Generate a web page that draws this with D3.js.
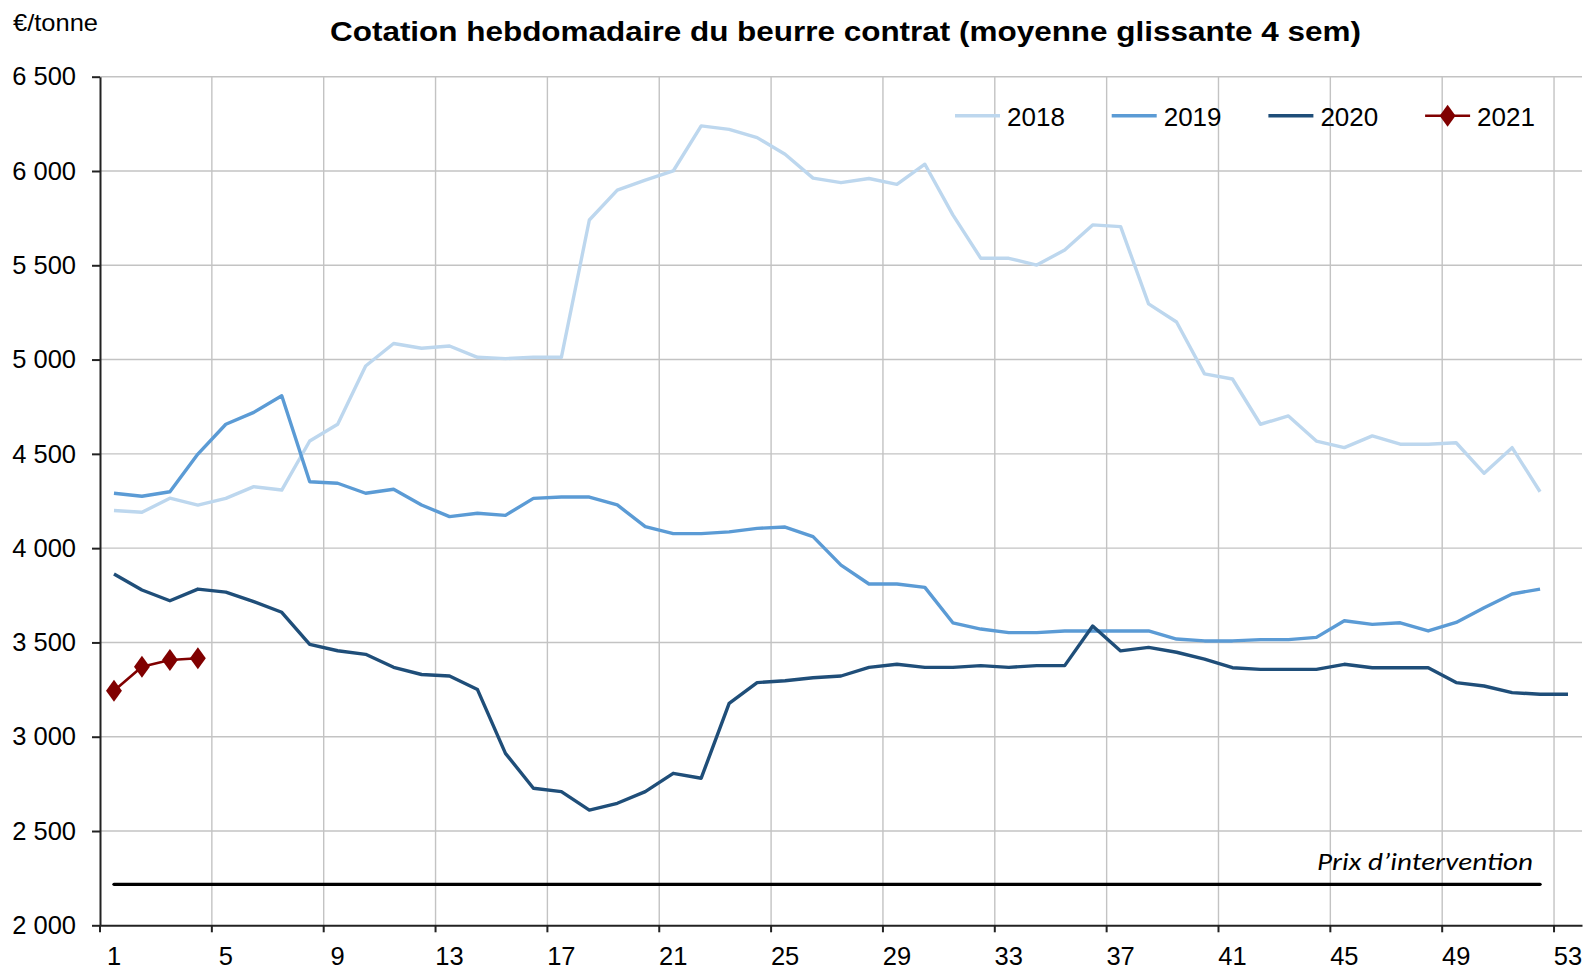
<!DOCTYPE html>
<html>
<head>
<meta charset="utf-8">
<script src="https://cdn.jsdelivr.net/npm/d3@7"></script>
<style>
  body { margin: 0; background: #fff; }
  svg { display: block; font-family: "Liberation Sans", Arial, sans-serif; }
</style>
</head>
<body>
<svg id="chart" width="1589" height="970"></svg>
<script>
// weeks 1..53
var weeks = d3.range(1, 54);
var weekLabels = [1, 5, 9, 13, 17, 21, 25, 29, 33, 37, 41, 45, 49, 53];
var yTicks = [2000, 2500, 3000, 3500, 4000, 4500, 5000, 5500, 6000, 6500];

// €/tonne, moyenne glissante 4 sem
var y2018 = [4200, 4190, 4265, 4228, 4264, 4326, 4308, 4568, 4657, 4966, 5085, 5060, 5072, 5012, 5005, 5012, 5012, 5740, 5899, 5952,
  6000, 6239, 6221, 6177, 6089, 5962, 5938, 5960, 5929, 6036, 5767, 5537, 5537, 5501, 5581, 5714, 5705, 5295, 5199, 4924,
  4897, 4657, 4701, 4568, 4533, 4595, 4551, 4551, 4559, 4397, 4533, 4299];
var y2019 = [4291, 4275, 4299, 4499, 4657, 4720, 4808, 4352, 4344, 4291, 4312, 4229, 4167, 4185, 4174, 4264, 4271, 4271, 4229, 4114,
  4077, 4077, 4086, 4105, 4112, 4061, 3910, 3810, 3810, 3792, 3604, 3571, 3552, 3552, 3561, 3561, 3561, 3561, 3518, 3508,
  3508, 3515, 3515, 3527, 3615, 3596, 3604, 3561, 3606, 3684, 3757, 3783];
var y2020 = [3863, 3778, 3721, 3783, 3767, 3716, 3660, 3490, 3456, 3437, 3368, 3330, 3322, 3250, 2912, 2727, 2709, 2611, 2647, 2709,
  2806, 2780, 3177, 3287, 3297, 3313, 3322, 3368, 3384, 3368, 3368, 3377, 3368, 3377, 3377, 3587, 3455, 3474, 3448, 3411,
  3366, 3357, 3357, 3357, 3384, 3366, 3366, 3366, 3287, 3269, 3234, 3225, 3225];
var y2021 = [3244, 3371, 3407, 3416];
var prixIntervention = 2217.5;

var series = [
  {name: "2018", values: y2018, color: "#bdd7ee", width: 3.4},
  {name: "2019", values: y2019, color: "#5b9bd5", width: 3.4},
  {name: "2020", values: y2020, color: "#1f4e79", width: 3.4},
  {name: "2021", values: y2021, color: "#800000", width: 2.6, marker: true}
];

var svg = d3.select("#chart");
// note: "top" is window.top, can't use it as a global
var plotLeft = 100, plotRight = 1582, plotTop = 76.7, plotBottom = 925.3;

var x = d3.scaleBand().domain(weeks).range([plotLeft, plotRight]).padding(0);
var bw = x.bandwidth();
var cx = function (w) { return x(w) + bw / 2; };
var y = d3.scaleLinear().domain([2000, 6500]).range([plotBottom, plotTop]);

// grid
var grid = svg.append("g").attr("stroke", "#c3c3c3").attr("stroke-width", 1.4);
grid.selectAll(".gh").data(yTicks.slice(1)).enter().append("line")
  .attr("x1", plotLeft).attr("x2", plotRight)
  .attr("y1", function (d) { return y(d); }).attr("y2", function (d) { return y(d); });
grid.selectAll(".gv").data(weekLabels.slice(1)).enter().append("line")
  .attr("x1", function (d) { return x(d); }).attr("x2", function (d) { return x(d); })
  .attr("y1", plotTop).attr("y2", plotBottom);

// axes
var fmt = function (d) { return d3.format(",")(d).replace(",", " "); };
var yAxis = svg.append("g").attr("transform", "translate(" + plotLeft + ",0)")
  .call(d3.axisLeft(y).tickValues(yTicks).tickFormat(fmt).tickSizeInner(8).tickSizeOuter(0).tickPadding(16));
yAxis.selectAll("text").attr("font-size", 25.5).attr("fill", "#000").attr("font-family", "Liberation Sans, Arial, sans-serif");
yAxis.selectAll("line, path").attr("stroke", "#222").attr("stroke-width", 2);

var xAxis = svg.append("g").attr("transform", "translate(0," + plotBottom + ")")
  .call(d3.axisBottom(x).tickValues(weekLabels).tickSizeInner(7).tickSizeOuter(0).tickPadding(15));
xAxis.selectAll(".tick line").attr("x1", -bw / 2).attr("x2", -bw / 2);
xAxis.selectAll("text").attr("font-size", 25.5).attr("fill", "#000").attr("font-family", "Liberation Sans, Arial, sans-serif");
xAxis.selectAll("line, path").attr("stroke", "#222").attr("stroke-width", 2);

// intervention price
svg.append("line")
  .attr("x1", cx(1)).attr("x2", cx(52))
  .attr("y1", y(prixIntervention)).attr("y2", y(prixIntervention))
  .attr("stroke", "#000").attr("stroke-width", 3.3).attr("stroke-linecap", "round");
svg.append("text")
  .attr("x", 1533).attr("y", 870)
  .attr("text-anchor", "end")
  .attr("font-family", "Carlito, 'Open Sans', sans-serif")
  .attr("font-style", "italic").attr("font-size", 25)
  .attr("textLength", 216).attr("lengthAdjust", "spacingAndGlyphs")
  .text("Prix d\u2019intervention");

// lines
var line = d3.line()
  .x(function (d, i) { return cx(weeks[i]); })
  .y(function (d) { return y(d); });

series.forEach(function (s) {
  svg.append("path").datum(s.values)
    .attr("fill", "none").attr("stroke", s.color).attr("stroke-width", s.width)
    .attr("stroke-linejoin", "round").attr("d", line);
  if (s.marker) {
    svg.selectAll(".m" + s.name).data(s.values).enter().append("path")
      .attr("d", d3.symbol().type(d3.symbolDiamond).size(140))
      .attr("transform", function (d, i) { return "translate(" + cx(weeks[i]) + "," + y(d) + ") scale(1.25,1)"; })
      .attr("fill", s.color);
  }
});

// legend
var legend = svg.append("g");
series.forEach(function (s, i) {
  var lx = 955 + i * 156.7, ly = 115.7;
  legend.append("line").attr("x1", lx).attr("x2", lx + 45).attr("y1", ly).attr("y2", ly)
    .attr("stroke", s.color).attr("stroke-width", s.width);
  if (s.marker) {
    legend.append("path").attr("d", d3.symbol().type(d3.symbolDiamond).size(140))
      .attr("transform", "translate(" + (lx + 22.5) + "," + ly + ") scale(1.25,1)")
      .attr("fill", s.color);
  }
  legend.append("text").attr("x", lx + 52).attr("y", 125.5)
    .attr("font-size", 26).attr("fill", "#000").text(s.name);
});

// title and unit
svg.append("text")
  .attr("x", 845.5).attr("y", 41)
  .attr("text-anchor", "middle").attr("font-weight", "bold").attr("font-size", 27)
  .attr("textLength", 1031).attr("lengthAdjust", "spacingAndGlyphs")
  .text("Cotation hebdomadaire du beurre contrat (moyenne glissante 4 sem)");
svg.append("text")
  .attr("x", 13).attr("y", 31).attr("font-size", 24)
  .attr("textLength", 85).attr("lengthAdjust", "spacingAndGlyphs")
  .text("\u20ac/tonne");
</script>
</body>
</html>
